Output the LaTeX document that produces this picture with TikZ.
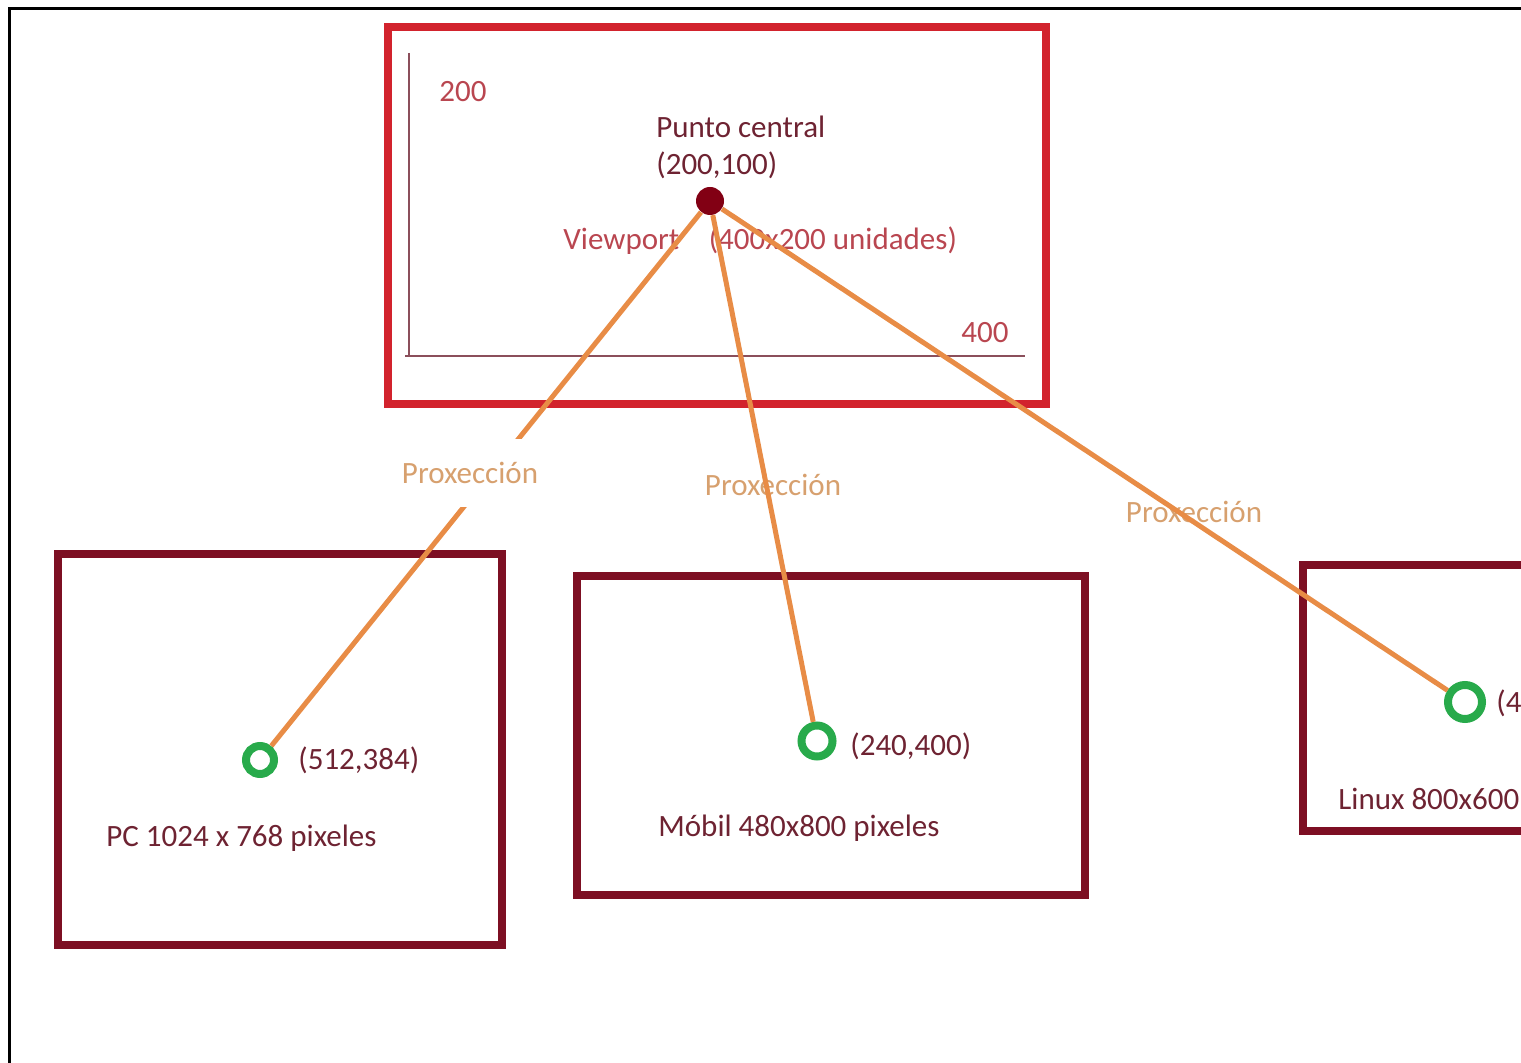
\documentclass[tikz,border=0pt]{standalone}
\usepackage{fontspec}
\setmainfont{Carlito}
\definecolor{rojoview}{RGB}{210,35,45}
\definecolor{granate}{RGB}{125,15,35}
\definecolor{laranxa}{RGB}{232,140,70}
\definecolor{verde}{RGB}{40,170,75}
\definecolor{puntocor}{RGB}{130,0,20}
\definecolor{textocor}{RGB}{110,35,50}
\definecolor{eixocor}{RGB}{185,70,80}
\definecolor{proxcor}{RGB}{215,160,110}
\tikzset{
  pantalla/.style={draw=granate, line width=4pt},
  proj/.style={draw=laranxa, line width=2.5pt},
  destino/.style={circle, draw=verde, line width=4pt, inner sep=0pt},
  txt/.style={inner sep=0pt, text=textocor, font=\fontsize{15.5}{19}\selectfont},
  proxlbl/.style={inner sep=0pt, text=proxcor, font=\fontsize{15.5}{19}\selectfont}
}
\begin{document}
\begin{tikzpicture}[x=0.5pt, y=-0.5pt]
  \useasboundingbox (0,0) rectangle (1521,1063);
  \clip (0,0) rectangle (1521,1063);
  % marco exterior
  \draw[line width=1.5pt] (9,1080) -- (9,9) -- (1540,9);

  % viewport
  \draw[draw=rojoview, line width=4pt] (388,27) rectangle (1046,404);
  \draw[draw=textocor!80, line width=1pt] (409,53) -- (409,357);
  \draw[draw=textocor!80, line width=1pt] (405,356) -- (1025,356);
  \node[txt, text=eixocor] (eixoy) at (463,92) {200};
  \node[txt, text=eixocor] (eixox) at (985,333) {400};
  \node[txt, anchor=west] (punto) at (656,127) {Punto central};
  \node[txt, anchor=west] (coord) at (656,165) {(200,100)};
  \node[txt, text=eixocor, anchor=west] (view) at (563,241) {Viewport\hspace{0.95em}(400x200 unidades)};
  \node[circle, fill=puntocor, inner sep=0pt, minimum size=14pt] (centro) at (710,201) {};

  % pantallas
  \draw[pantalla] (58,554) rectangle (502,945);
  \draw[pantalla] (577,576) rectangle (1085,895);
  \draw[pantalla] (1303,565) rectangle (1560,831);

  % puntos de destino
  \node[destino, minimum size=14pt] (pc) at (260,760) {};
  \node[destino, minimum size=15.5pt] (mobil) at (817,741) {};
  \node[destino, minimum size=17pt] (linux) at (1465,702) {};
  \node[txt, anchor=west] (pccoord) at (298,760) {(512,384)};
  \node[txt, anchor=west] (mobilcoord) at (850,746) {(240,400)};
  \node[txt, anchor=west] (linuxcoord) at (1496,703) {(4};
  \node[txt, anchor=west] (pctxt) at (106,838) {PC 1024 x 768 pixeles};
  \node[txt, anchor=west] (mobiltxt) at (658,828) {Móbil 480x800 pixeles};
  \node[txt, anchor=west] (linuxtxt) at (1338,799) {Linux 800x600};

  % proxeccions
  \node[proxlbl] (prox2) at (773,485) {Proxección};
  \node[proxlbl] (prox3) at (1194,512) {Proxección};
  \draw[proj] (centro) -- (pc);
  \draw[proj] (centro) -- (mobil);
  \draw[proj] (centro) -- (linux);
  \node[proxlbl, fill=white, inner xsep=2pt, minimum height=34pt] (prox1) at (470,473) {Proxección};
\end{tikzpicture}
\end{document}
